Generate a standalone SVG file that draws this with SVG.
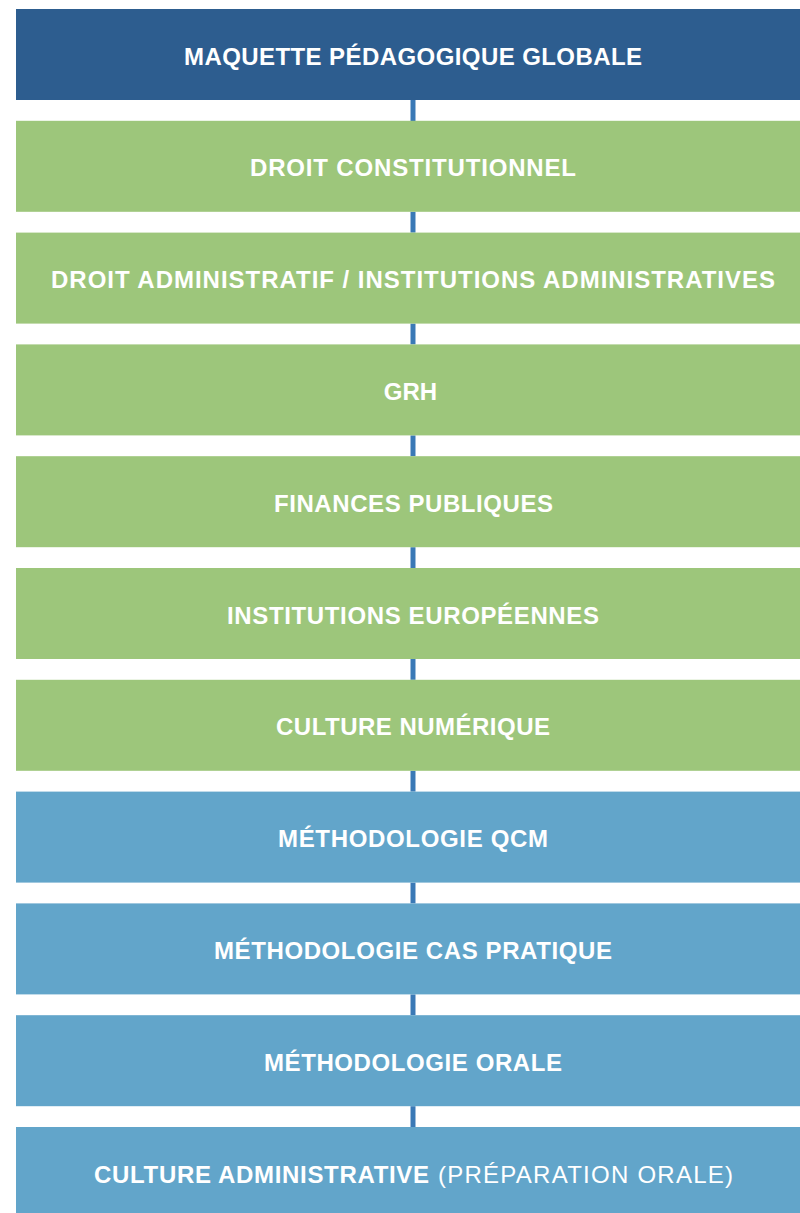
<svg xmlns="http://www.w3.org/2000/svg" width="800" height="1213" viewBox="0 0 800 1213">
<style>
.box{stroke:none}
.dark{fill:#2d5d8f}
.green{fill:#9dc67b}
.light{fill:#62a5ca}
.t{font-family:"Liberation Sans",Arial,sans-serif;font-weight:bold;font-size:24px;fill:#ffffff;text-anchor:middle}
.tn{font-family:"Liberation Sans",Arial,sans-serif;font-weight:normal;font-size:24px;fill:#ffffff}
.c{stroke:#3a79b6;stroke-width:5;fill:none}
</style>
<rect width="800" height="1213" fill="#ffffff"/>
<g id="connectors">
<line class="c" x1="413" y1="100" x2="413" y2="121"/>
<line class="c" x1="413" y1="211.8" x2="413" y2="232.6"/>
<line class="c" x1="413" y1="323.6" x2="413" y2="344.4"/>
<line class="c" x1="413" y1="435.4" x2="413" y2="456.2"/>
<line class="c" x1="413" y1="547.2" x2="413" y2="568"/>
<line class="c" x1="413" y1="659" x2="413" y2="679.8"/>
<line class="c" x1="413" y1="770.8" x2="413" y2="791.6"/>
<line class="c" x1="413" y1="882.6" x2="413" y2="903.4"/>
<line class="c" x1="413" y1="994.4" x2="413" y2="1015.2"/>
<line class="c" x1="413" y1="1106.2" x2="413" y2="1127"/>
</g>
<g id="n1"><rect class="box dark" x="16" y="9" width="784" height="91"/><text class="t" x="413" y="64.5" textLength="458">MAQUETTE PÉDAGOGIQUE GLOBALE</text></g>
<g id="n2"><rect class="box green" x="16" y="120.8" width="784" height="91"/><text class="t" x="413" y="176.3" textLength="326">DROIT CONSTITUTIONNEL</text></g>
<g id="n3"><rect class="box green" x="16" y="232.6" width="784" height="91"/><text class="t" x="413" y="288.1" textLength="724">DROIT ADMINISTRATIF / INSTITUTIONS ADMINISTRATIVES</text></g>
<g id="n4"><rect class="box green" x="16" y="344.4" width="784" height="91"/><text class="t" x="410.5" y="399.9">GRH</text></g>
<g id="n5"><rect class="box green" x="16" y="456.2" width="784" height="91"/><text class="t" x="413.5" y="511.7" textLength="279">FINANCES PUBLIQUES</text></g>
<g id="n6"><rect class="box green" x="16" y="568" width="784" height="91"/><text class="t" x="413" y="623.5" textLength="372">INSTITUTIONS EUROPÉENNES</text></g>
<g id="n7"><rect class="box green" x="16" y="679.8" width="784" height="91"/><text class="t" x="413" y="735.3" textLength="274">CULTURE NUMÉRIQUE</text></g>
<g id="n8"><rect class="box light" x="16" y="791.6" width="784" height="91"/><text class="t" x="413" y="847.1" textLength="270">MÉTHODOLOGIE QCM</text></g>
<g id="n9"><rect class="box light" x="16" y="903.4" width="784" height="91"/><text class="t" x="413" y="958.9" textLength="398">MÉTHODOLOGIE CAS PRATIQUE</text></g>
<g id="n10"><rect class="box light" x="16" y="1015.2" width="784" height="91"/><text class="t" x="413" y="1070.7" textLength="298">MÉTHODOLOGIE ORALE</text></g>
<g id="n11"><rect class="box light" x="16" y="1127" width="784" height="86"/><text class="t" x="94" y="1182.5" textLength="335" style="text-anchor:start">CULTURE ADMINISTRATIVE</text><text class="tn" x="438" y="1182.5" textLength="295">(PRÉPARATION ORALE)</text></g>
</svg>
